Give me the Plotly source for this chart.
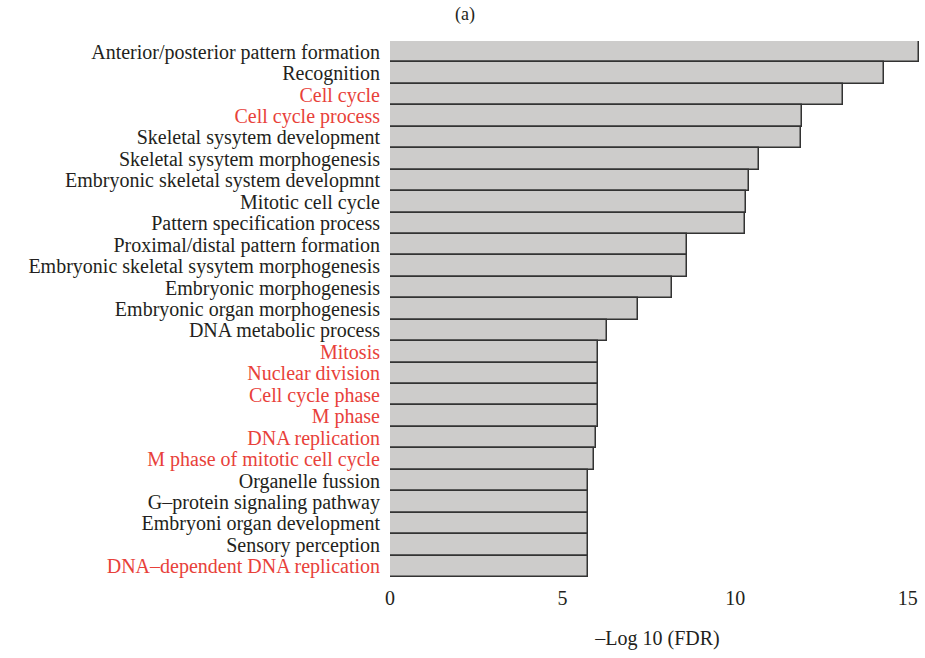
import plotly.graph_objects as go

# GO terms, top to bottom
terms = [
    "Anterior/posterior pattern formation",
    "Recognition",
    "Cell cycle",
    "Cell cycle process",
    "Skeletal sysytem development",
    "Skeletal sysytem morphogenesis",
    "Embryonic skeletal system developmnt",
    "Mitotic cell cycle",
    "Pattern specification process",
    "Proximal/distal pattern formation",
    "Embryonic skeletal sysytem morphogenesis",
    "Embryonic morphogenesis",
    "Embryonic organ morphogenesis",
    "DNA metabolic process",
    "Mitosis",
    "Nuclear division",
    "Cell cycle phase",
    "M phase",
    "DNA replication",
    "M phase of mitotic cell cycle",
    "Organelle fussion",
    "G\u2013protein signaling pathway",
    "Embryoni organ development",
    "Sensory perception",
    "DNA\u2013dependent DNA replication",
]
# -log10(FDR)
neg_log_fdr = [
    15.33, 14.32, 13.13, 11.94, 11.91, 10.70, 10.41, 10.32, 10.29,
    8.61, 8.61, 8.16, 7.19, 6.28, 6.02, 6.02, 6.02, 6.02, 5.98, 5.91,
    5.74, 5.74, 5.74, 5.74, 5.74,
]
# cell-cycle related terms are highlighted
highlighted = {
    "Cell cycle", "Cell cycle process", "Mitosis", "Nuclear division",
    "Cell cycle phase", "M phase", "DNA replication",
    "M phase of mitotic cell cycle", "DNA\u2013dependent DNA replication",
}
x_ticks = [0, 5, 10, 15]

RED = "#e8413a"
INK = "#231f20"
FONT = "Liberation Serif"
SIZE = 20

positions = list(range(len(terms)))
tick_text = [
    f'<span style="color:{RED}">{t}</span>' if t in highlighted else t
    for t in terms
]

fig = go.Figure(
    go.Bar(
        x=neg_log_fdr,
        y=positions,
        orientation="h",
        marker=dict(color="#cdcccb", line=dict(color="#333333", width=1.5)),
        width=1.0,
    )
)

fig.update_layout(
    width=925,
    height=658,
    margin=dict(l=390, r=0, t=41, b=81),
    paper_bgcolor="white",
    plot_bgcolor="white",
    showlegend=False,
    font=dict(family=FONT, size=SIZE, color=INK),
    bargap=0,
    title=dict(
        text="(a)",
        x=465 / 925,
        xanchor="center",
        y=1 - 14 / 658,
        yanchor="middle",
        font=dict(family=FONT, size=18, color=INK),
    ),
    xaxis=dict(
        range=[0, 15.5],
        tickvals=x_ticks,
        ticktext=[str(v) for v in x_ticks],
        showgrid=False,
        zeroline=False,
        showline=False,
        ticks="",
        ticklabelstandoff=7,
        tickfont=dict(family=FONT, size=SIZE, color=INK),
        title=dict(
            text="\u2013Log 10 (FDR)",
            font=dict(family=FONT, size=SIZE, color=INK),
            standoff=22,
        ),
    ),
    yaxis=dict(
        range=[len(terms) - 0.5, -0.5],
        tickvals=positions,
        ticktext=tick_text,
        showgrid=False,
        zeroline=False,
        showline=False,
        ticks="",
        ticklabelstandoff=9,
        tickfont=dict(family=FONT, size=SIZE, color=INK),
    ),
)

fig.write_html("out.html")
